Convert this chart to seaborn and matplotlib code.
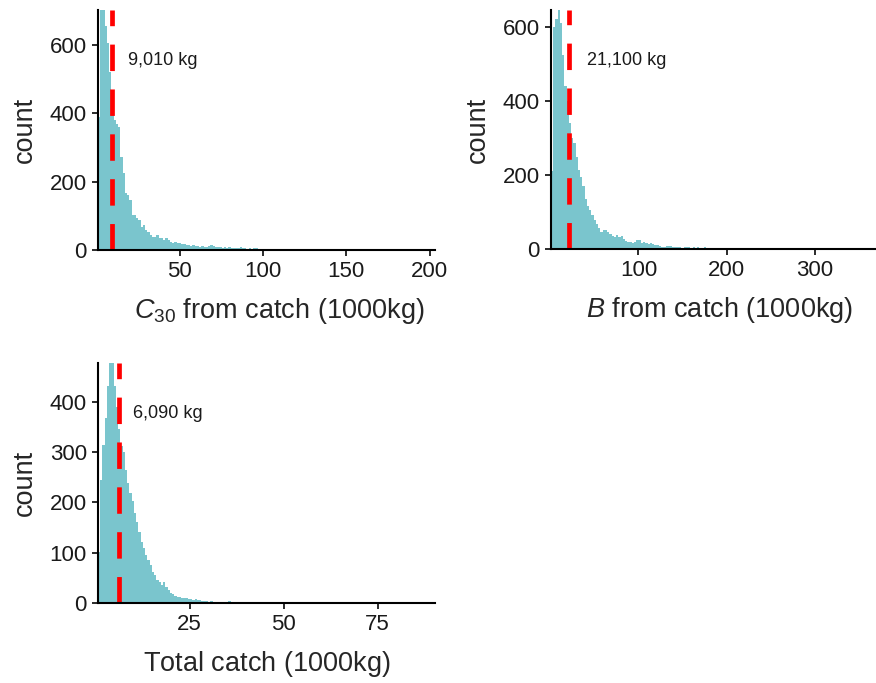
import matplotlib
matplotlib.use("Agg")
import matplotlib.pyplot as plt
import numpy as np
import pandas as pd
import seaborn as sns

# bin counts (150 bins each)
c30_counts = [390, 800, 720, 654, 605, 520, 440, 380, 368, 361,
              273, 224, 166, 160, 146, 102, 102, 93, 88, 68,
              73, 59, 54, 44, 39, 37, 44, 34, 34, 29,
              36, 29, 24, 20, 24, 21, 20, 17, 17, 15,
              15, 13, 14, 12, 11, 10, 11, 10, 9, 11,
              14, 12, 9, 8, 9, 7, 8, 6, 9, 6,
              6, 5, 6, 9, 5, 5, 4, 5, 4, 7,
              6, 4, 4, 3, 4, 3, 3, 4, 3, 3,
              3, 2, 3, 3, 2, 3, 2, 2, 2, 2,
              2, 2, 1, 2, 2, 1, 1, 2, 1, 1,
              1, 1, 2, 1, 1, 1, 1, 0, 1, 1,
              1, 0, 1, 1, 0, 1, 1, 0, 1, 0,
              0, 1, 0, 0, 1, 0, 0, 0, 1, 0,
              0, 0, 1, 0, 0, 0, 0, 1, 0, 0,
              0, 0, 0, 1, 0, 0, 0, 0, 0, 1]
b_counts = [210, 600, 620, 665, 610, 524, 440, 400, 340, 300,
            286, 250, 215, 195, 170, 135, 118, 105, 92, 80,
            68, 58, 46, 52, 53, 46, 40, 37, 34, 38,
            34, 37, 28, 23, 21, 21, 17, 20, 24, 25,
            17, 20, 17, 15, 16, 13, 12, 11, 9, 7,
            7, 8, 9, 10, 7, 6, 5, 5, 4, 6,
            5, 6, 4, 5, 4, 5, 3, 4, 5, 3,
            4, 3, 4, 3, 3, 4, 2, 3, 3, 2,
            3, 2, 2, 3, 2, 2, 2, 1, 2, 2,
            1, 2, 1, 1, 2, 1, 1, 1, 2, 1,
            1, 1, 0, 1, 1, 0, 1, 1, 0, 1,
            0, 1, 0, 0, 1, 0, 1, 0, 0, 0,
            1, 0, 0, 0, 0, 1, 0, 0, 0, 0,
            0, 1, 0, 0, 0, 0, 0, 0, 1, 0,
            0, 0, 0, 0, 0, 0, 0, 0, 0, 1]
total_counts = [102, 245, 314, 367, 430, 490, 480, 430, 390, 345,
                311, 301, 265, 238, 218, 202, 179, 162, 142, 122,
                109, 96, 86, 76, 63, 56, 46, 43, 36, 43,
                33, 26, 20, 18, 15, 13, 12, 11, 10, 10,
                9, 8, 7, 8, 6, 6, 5, 4, 4, 3,
                4, 3, 3, 2, 3, 2, 2, 3, 5, 2,
                2, 2, 1, 2, 1, 2, 1, 3, 1, 1,
                1, 0, 1, 1, 0, 1, 0, 0, 1, 0,
                0, 1, 0, 0, 0, 1, 0, 0, 0, 0,
                0, 0, 0, 0, 0, 0, 1, 0, 0, 0,
                0, 0, 0, 0, 0, 0, 0, 0, 0, 0,
                0, 0, 0, 0, 0, 0, 0, 0, 0, 0,
                0, 0, 0, 0, 0, 0, 0, 0, 0, 0,
                0, 0, 0, 0, 0, 0, 0, 0, 0, 0,
                0, 0, 0, 0, 0, 0, 0, 0, 0, 1]

# bin start and width (1000kg), medians and labels
c30_bins = (0.8, 1.35)
b_bins = (0.8, 2.55)
total_bins = (0.6, 0.598)
medians = [9.01, 21.1, 6.09]
median_labels = ["9,010 kg", "21,100 kg", "6,090 kg"]
label_x = [18.8, 41.4, 9.8]
x_titles = [r"$C_{30}$ from catch $\left(\mathrm{1000kg}\right)$",
            r"$B$ from catch $\left(\mathrm{1000kg}\right)$",
            r"Total catch $\left(\mathrm{1000kg}\right)$"]
x_ticks = [[50, 100, 150, 200], [100, 200, 300], [25, 50, 75]]
y_ticks = [[0, 200, 400, 600], [0, 200, 400, 600], [0, 100, 200, 300, 400]]
y_tops = [702, 645, 476]

sns.set_style("ticks")
plt.rcParams["font.family"] = ["Liberation Sans", "DejaVu Sans"]
plt.rcParams["mathtext.fontset"] = "custom"
plt.rcParams["mathtext.rm"] = "Liberation Sans"
plt.rcParams["mathtext.it"] = "Liberation Sans:italic"

fig = plt.figure(figsize=(8.76, 6.83), dpi=100)
W, H = 876, 683
boxes = [(98, 10, 337, 240), (551, 10, 337, 239.3), (98, 363.3, 337, 240)]
axes = [fig.add_axes([x / W, 1 - (y + h) / H, w / W, h / H]) for x, y, w, h in boxes]

fill = "#7AC5CD"
for i, (ax, counts, (start, width)) in enumerate(zip(axes, [c30_counts, b_counts, total_counts],
                                                     [c30_bins, b_bins, total_bins])):
    n = len(counts)
    edges = start + width * np.arange(n + 1)
    df = pd.DataFrame({"x": (edges[:-1] + edges[1:]) / 2, "count": counts})
    sns.histplot(data=df, x="x", weights="count", bins=list(edges), ax=ax, color=fill,
                 alpha=1, linewidth=0)
    ax.set_xlim(edges[0], edges[-1])
    ax.set_ylim(0, y_tops[i])
    ax.axvline(medians[i], color="red", lw=3.4, ls=(0, (5.6, 3.9)))
    ax.text(label_x[i], y_tops[i] * 0.79, median_labels[i],
            fontsize=13, ha="left", va="center", color="#1a1a1a")
    ax.set_xticks(x_ticks[i])
    ax.set_yticks(y_ticks[i])
    ax.tick_params(labelsize=16, length=4.5, width=1.3, pad=3.5, colors="#1a1a1a")
    ax.set_xlabel(x_titles[i], fontsize=19.5)
    ax.set_ylabel("count", fontsize=19.5)
    xl = 0.537 if i == 0 else 0.5
    ax.xaxis.set_label_coords(xl, -61 / 240)
    ax.xaxis.label.set_va("center")
    ax.yaxis.set_label_coords(-73 / 337, 0.5)
    ax.yaxis.label.set_va("center")
    for s in ["left", "bottom"]:
        ax.spines[s].set_linewidth(1.5)
        ax.spines[s].set_color("black")
    sns.despine(ax=ax)

fig.savefig("out.png", dpi=100)
